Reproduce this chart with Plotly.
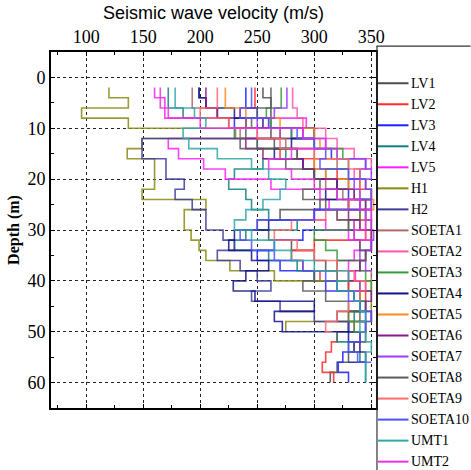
import plotly.graph_objects as go

# Layer boundaries (m) and velocity of each layer (m/s); last value = half-space tail
DEPTHS = [2, 4, 6, 8, 10, 12, 14, 16, 18, 20, 22, 24, 26, 28, 30, 32, 34, 36, 38, 40,
          42, 44, 46, 48, 50, 52, 54, 56, 58, 60]

NAMES = ["LV1", "LV2", "LV3", "LV4", "LV5", "H1", "H2", "SOETA1", "SOETA2", "SOETA3",
         "SOETA4", "SOETA5", "SOETA6", "SOETA7", "SOETA8", "SOETA9", "SOETA10", "UMT1", "UMT2"]

COLORS = ["#4d4d4d", "#ff2a2a", "#1f1fff", "#118080", "#ff1fff", "#8a8a14", "#3d3d99",
          "#b06868", "#ff55aa", "#3a9a3a", "#12128a", "#ff8c1a", "#8a1a8a", "#9a3aff",
          "#5a5a5a", "#ff6a6a", "#5050ff", "#30a8a8", "#e830e8"]

LV1 = [255, 262, 262, 240, 262, 265, 285, 290, 300, 330, 320, 305, 270, 250, 260, 280, 300, 310,
       320, 330, 335, 340, 320, 330, 345, 335, 330, 320, 314, 314]
LV2 = [248, 248, 235, 260, 290, 250, 270, 300, 320, 340, 350, 330, 340, 350, 345, 300, 280, 290,
       305, 330, 345, 340, 330, 335, 320, 315, 310, 307, 317, 317]
LV3 = [240, 240, 250, 230, 280, 300, 315, 345, 340, 320, 330, 350, 345, 335, 290, 265, 250, 270,
       300, 310, 335, 340, 345, 330, 340, 335, 325, 321, 330, 330]
LV4 = [172, 172, 185, 262, 230, 250, 275, 255, 230, 225, 240, 245, 260, 285, 240, 230, 260, 285,
       300, 320, 340, 345, 335, 345, 320, 330, 340, 345, 345, 345]
LV5 = [160, 169, 169, 293, 250, 172, 181, 203, 222, 262, 305, 313, 300, 310, 330, 340, 335, 330,
       336, 345, 335]
H1 = [120, 137, 96, 137, 231, 149, 136, 160, 160, 160, 149, 205, 186, 186, 192, 199, 205, 226,
      265, 350, 350, 350, 350, 275, 275]
H2 = [199, 205, 215, 240, 300, 149, 149, 170, 170, 186, 178, 193, 205, 205, 220, 230, 215, 235,
      250, 262, 245, 270, 300, 330, 340, 335]
SOETA1 = [193, 193, 215, 240, 235, 275, 300, 320, 330, 310, 325, 340, 350, 345, 350, 350, 345,
          340, 350, 350]
SOETA2 = [281, 281, 285, 290, 310, 320, 335, 350, 335, 345, 350, 340, 320, 335, 345, 350, 350]
SOETA3 = [271, 271, 258, 262, 280, 300, 325, 330, 310, 320, 335, 345, 340, 330, 300, 310, 320,
          340, 345, 350, 340, 345, 330, 335, 340]
SOETA4 = [199, 205, 230, 255, 300, 280, 265, 290, 300, 320, 310, 330, 300, 260, 230, 225, 245,
          260, 240, 229, 248, 300, 265, 272, 330, 340, 345, 330]
SOETA5 = [222, 222, 240, 270, 300, 305, 320, 300, 310, 330, 340, 352, 345, 340, 350, 352]
SOETA6 = [205, 205, 215, 225, 270, 240, 255, 290, 300, 320, 335, 345, 330, 340, 350, 350, 345,
          340, 330, 340, 350, 345, 350, 350]
SOETA7 = [276, 276, 265, 250, 290, 310, 320, 345, 350, 335, 340, 350, 345, 350, 352, 350, 340,
          345, 350]
SOETA8 = [262, 262, 250, 245, 240, 235, 285, 275, 300, 305, 290, 310, 320, 330, 335, 340, 345,
          320, 300, 290, 310, 330, 340, 345, 340, 335, 340]
SOETA9 = [215, 215, 200, 225, 250, 270, 300, 330, 340, 345, 350, 330, 310, 280, 265, 285, 300,
          320, 335, 345, 340, 330, 320, 310, 315]
SOETA10 = [245, 245, 235, 260, 285, 300, 310, 305, 330, 345, 350, 340, 300, 250, 235, 245, 265,
           290, 310, 320, 330, 340, 350, 345, 340, 330, 338, 350]
UMT1 = [178, 178, 195, 205, 185, 190, 215, 245, 260, 275, 270, 255, 240, 230, 245, 265, 280, 300,
        330, 320, 335, 340, 345, 340, 345, 350, 345, 345, 345, 345]
UMT2 = [165, 165, 172, 200, 290, 310, 280, 260, 280, 300, 320, 340, 350, 345, 335, 350]

SERIES = [LV1, LV2, LV3, LV4, LV5, H1, H2, SOETA1, SOETA2, SOETA3, SOETA4, SOETA5, SOETA6,
          SOETA7, SOETA8, SOETA9, SOETA10, UMT1, UMT2]

X_TICKS = [100, 150, 200, 250, 300, 350]
Y_TICKS = [0, 10, 20, 30, 40, 50, 60]

fig = go.Figure()
for name, color, vel in zip(NAMES, COLORS, SERIES):
    fig.add_trace(go.Scatter(
        x=vel, y=DEPTHS[:len(vel)], mode="lines", name=name, showlegend=False,
        line=dict(color=color, width=1.6, shape="vh"), opacity=0.85,
    ))

serif = "Liberation Serif, Times New Roman, serif"
W, H = 471, 470
L, R, T, B = 46, 95, 49, 62

fig.update_layout(
    width=W, height=H,
    margin=dict(l=L, r=R, t=T, b=B),
    paper_bgcolor="white", plot_bgcolor="white",
    font=dict(family=serif, color="black"),
    showlegend=False,
    xaxis=dict(
        side="top", range=[69.2, 354.1], tickvals=X_TICKS,
        tickfont=dict(family=serif, size=18), ticklabelstandoff=0,
        showgrid=True, gridcolor="#222", griddash="dot", gridwidth=1,
        showline=True, linecolor="black", linewidth=2, mirror="allticks",
        ticks="inside", ticklen=4, tickcolor="black", zeroline=False,
        minor=dict(tickvals=[75, 125, 175, 225, 275, 325], ticks="inside", ticklen=3,
                   tickcolor="black", showgrid=False),
        title=dict(text="Seismic wave velocity (m/s)",
                   font=dict(family="Liberation Sans, Arial, sans-serif", size=18),
                   standoff=2),
    ),
    yaxis=dict(
        range=[65, -5], tickvals=Y_TICKS,
        tickfont=dict(family=serif, size=18), ticklabelstandoff=0,
        showgrid=True, gridcolor="#222", griddash="dot", gridwidth=1,
        showline=True, linecolor="black", linewidth=2, mirror="allticks",
        ticks="inside", ticklen=4, tickcolor="black", zeroline=False,
        minor=dict(tickvals=[5, 15, 25, 35, 45, 55], ticks="inside", ticklen=3,
                   tickcolor="black", showgrid=False),
        title=dict(text="<b>Depth (m)</b>", font=dict(family=serif, size=16), standoff=4),
    ),
)

pw = W - L - R
ph = H - T - B
def px_x(p):
    return (p - L) / pw
def px_y(p):
    return 1 - (p - T) / ph

# legend frame lines (top and left borders of the legend box)
fig.add_shape(type="line", xref="paper", yref="paper",
              x0=px_x(376.5), x1=px_x(472), y0=px_y(43), y1=px_y(43),
              line=dict(color="#333", width=1.2))
fig.add_shape(type="line", xref="paper", yref="paper",
              x0=px_x(377), x1=px_x(377), y0=px_y(43), y1=px_y(472),
              line=dict(color="#333", width=1.2))

# legend entries
for i, (name, color) in enumerate(zip(NAMES, COLORS)):
    yc = 80.5 + i * 21.2
    fig.add_shape(type="line", xref="paper", yref="paper",
                  x0=px_x(378), x1=px_x(409), y0=px_y(yc), y1=px_y(yc),
                  line=dict(color=color, width=2))
    fig.add_annotation(xref="paper", yref="paper", x=px_x(410), y=px_y(yc),
                       xanchor="left", yanchor="middle", showarrow=False,
                       text=name, font=dict(family=serif, size=14, color="black"))

fig.write_html("out.html")
